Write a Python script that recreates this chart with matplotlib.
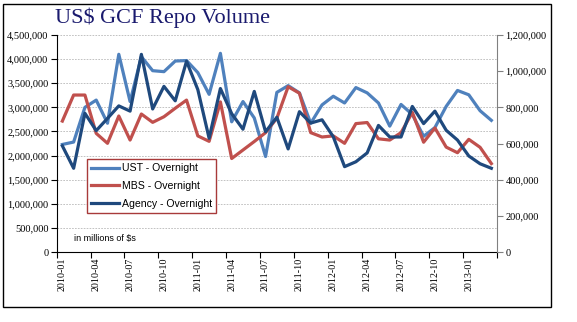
# plot.py

import numpy as np
import matplotlib
matplotlib.use("Agg")
from matplotlib import pyplot as plt
from matplotlib.patches import Rectangle
from matplotlib.ticker import FuncFormatter, MultipleLocator, FixedLocator

# months 2010-01 .. 2013-03
months = [f"{2010 + m // 12}-{m % 12 + 1:02d}" for m in range(39)]

# UST - Overnight (left axis)
ust = [2230000, 2280000, 3000000, 3150000, 2670000, 4100000, 3120000, 4050000,
       3760000, 3740000, 3960000, 3970000, 3720000, 3270000, 4120000, 2700000,
       3120000, 2780000, 1980000, 3310000, 3450000, 3300000, 2670000, 3050000,
       3230000, 3090000, 3410000, 3300000, 3090000, 2610000, 3060000, 2850000,
       2400000, 2580000, 3020000, 3350000, 3260000, 2930000, 2730000]

# MBS - Overnight (right axis)
mbs = [724000, 868000, 868000, 656000, 601000, 752000, 619000, 763000,
       717000, 748000, 795000, 840000, 642000, 612000, 830000, 517000,
       564000, 611000, 660000, 740000, 914000, 878000, 660000, 636000,
       642000, 601000, 710000, 716000, 626000, 619000, 660000, 772000,
       607000, 686000, 580000, 549000, 623000, 579000, 489000]

# Agency - Overnight (right axis)
agency = [587000, 463000, 767000, 671000, 739000, 808000, 779000, 1093000,
          791000, 916000, 836000, 1055000, 898000, 629000, 904000, 765000,
          679000, 888000, 665000, 745000, 570000, 776000, 713000, 731000,
          637000, 472000, 499000, 548000, 700000, 636000, 636000, 805000,
          710000, 779000, 673000, 619000, 531000, 488000, 463000]

SERIF = ["Liberation Serif", "DejaVu Serif"]
SANS = ["Liberation Sans", "DejaVu Sans"]


def comma(v, pos):
    return f"{int(round(v)):,}"


def main():
    fig = plt.figure(figsize=(5.77, 3.22), dpi=100)
    W, H = 577, 322

    # chart frame
    fig.patches.append(Rectangle((3 / W, 1 - 307 / H), 548 / W, 303 / H,
                                 transform=fig.transFigure, fill=False,
                                 edgecolor="black", linewidth=1.0))

    ax = fig.add_axes([56.7 / W, 1 - 252 / H, 440.3 / W, 217 / H])
    ax2 = ax.twinx()
    x = np.arange(len(months))

    l1, = ax.plot(x, ust, color="#4F81BD", lw=2.3, label="UST - Overnight")
    l2, = ax2.plot(x, mbs, color="#C0504D", lw=2.3, label="MBS - Overnight")
    l3, = ax2.plot(x, agency, color="#1F497D", lw=2.3, label="Agency - Overnight")

    ax.set_xlim(-0.5, len(months) - 0.5)
    ax.set_ylim(0, 4500000)
    ax2.set_ylim(0, 1200000)
    ax.yaxis.set_major_locator(MultipleLocator(500000))
    ax2.yaxis.set_major_locator(MultipleLocator(200000))
    ax.yaxis.set_major_formatter(FuncFormatter(comma))
    ax2.yaxis.set_major_formatter(FuncFormatter(comma))

    # gridlines
    ax.grid(axis="y", color="#B8B8B8", linestyle=(0, (2, 1.5)), linewidth=0.6)
    ax.set_axisbelow(True)

    # x ticks: marks between groups of 3, labels at first month of each
    ax.xaxis.set_major_locator(FixedLocator(np.arange(0, len(months), 3)))
    ax.set_xticklabels(months[::3], rotation=90, family=SERIF, fontsize=7.2)
    ax.xaxis.set_minor_locator(FixedLocator(np.arange(-0.5, len(months), 3)))
    ax.tick_params(axis="x", which="major", length=0, pad=4)
    ax.tick_params(axis="x", which="minor", length=4, width=0.8, direction="out")

    ax.tick_params(axis="y", length=4, width=0.8, pad=2, labelsize=7.5)
    ax2.tick_params(axis="y", length=4, width=0.8, pad=2, labelsize=7.5,
                    color="#808080")
    for lab in ax.get_yticklabels() + ax2.get_yticklabels():
        lab.set_family(SERIF)

    for a in (ax, ax2):
        a.spines["top"].set_visible(False)
    ax2.spines["left"].set_visible(False)
    ax2.spines["bottom"].set_visible(False)
    ax2.spines["right"].set_color("#808080")
    ax.spines["right"].set_visible(False)

    leg = ax2.legend(handles=[l1, l2, l3], loc="upper left",
                     bbox_to_anchor=(0.069, 0.4286), borderaxespad=0,
                     fancybox=False, framealpha=1, handlelength=2.6,
                     labelspacing=0.75, handletextpad=0.3,
                     prop={"family": SANS, "size": 7.6})
    leg.get_frame().set_edgecolor("#A83A3A")
    leg.get_frame().set_linewidth(1.0)

    ax.text(0.04, 0.06, "in millions of $s", transform=ax.transAxes,
            family=SANS, fontsize=6.5, va="center")

    fig.text(55 / W, 1 - 18 / H, "US$ GCF Repo Volume", family=SERIF,
             fontsize=16, color="#1A1A6E", va="center", ha="left")

    fig.savefig("out.png", dpi=100)


if __name__ == "__main__":
    main()
